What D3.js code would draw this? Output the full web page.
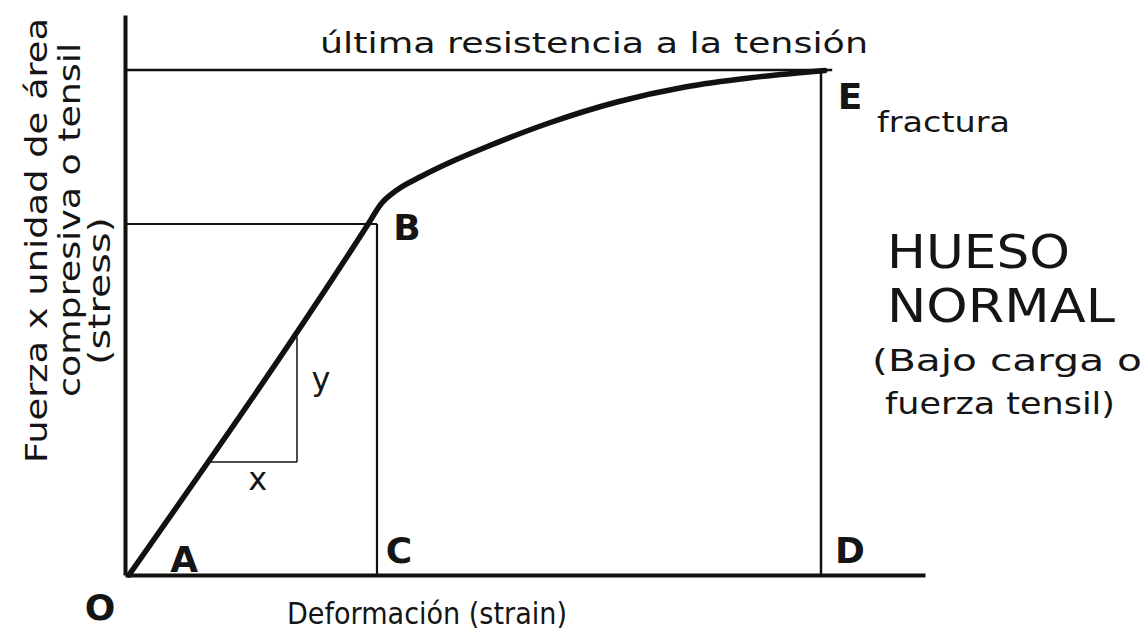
<!DOCTYPE html>
<html>
<head>
<meta charset="utf-8">
<script src="https://cdn.jsdelivr.net/npm/d3@7"></script>
<style>
  body { margin: 0; background: #fff; }
  text { font-family: "DejaVu Sans", sans-serif; fill: #151515; }
</style>
</head>
<body>
<div id="chart"></div>
<script>
// curve (strain %, stress %)
var strain = [0.5, 30.4, 32, 34, 37, 41, 45, 53, 61.5, 70, 78, 84, 87.5];
var stress = [0, 70.2, 74.2, 77, 79.7, 82.8, 85.5, 90.4, 94.6, 97.6, 99.4, 100.4, 100.9];

// key levels
var yieldStress = 70.2;      // B
var yieldStrain = 31.5;      // C
var ultimateStress = 101;    // E
var fractureStrain = 87;     // D
var ultimateLineEnd = 88.4;

// slope triangle (x, y)
var triStrain = [10.4, 21.5];
var triStress = [22.6, 47.6];

var pointNames = ["O", "A", "B", "C", "D", "E"];
var yLabelLines = ["Fuerza x unidad de área", "compresiva o tensil", "(stress)"];
var xLabel = "Deformación (strain)";
var topLabel = "última resistencia a la tensión";
var titleLines = ["HUESO", "NORMAL"];
var noteLines = ["(Bajo carga o", "fuerza tensil)"];

var width = 1143, height = 631;
var svg = d3.select("#chart").append("svg").attr("width", width).attr("height", height);

var x = d3.scaleLinear().domain([0, 100]).range([125, 925]);
var y = d3.scaleLinear().domain([0, 112]).range([575, 15]);

// thin guide lines
function guide(x1, y1, x2, y2, w) {
  svg.append("line")
    .attr("x1", x(x1)).attr("y1", y(y1))
    .attr("x2", x(x2)).attr("y2", y(y2))
    .attr("stroke", "#111").attr("stroke-width", w);
}
guide(0, ultimateStress, ultimateLineEnd, ultimateStress, 2.5);
guide(fractureStrain, ultimateStress, fractureStrain, 0, 2.5);
guide(0, yieldStress, yieldStrain, yieldStress, 2.2);
guide(yieldStrain, yieldStress, yieldStrain, 0, 2.2);
guide(triStrain[0], triStress[0], triStrain[1], triStress[0], 1.5);
guide(triStrain[1], triStress[0], triStrain[1], triStress[1], 1.5);

// axes
svg.append("g")
  .attr("transform", "translate(0," + y(0) + ")")
  .call(d3.axisBottom(x).ticks(0).tickSizeOuter(0))
  .select(".domain").attr("stroke", "#111").attr("stroke-width", 4);
svg.append("g")
  .attr("transform", "translate(" + x(0) + ",0)")
  .call(d3.axisLeft(y).ticks(0).tickSizeOuter(0))
  .select(".domain").attr("stroke", "#111").attr("stroke-width", 4);

// stress-strain curve
var pts = strain.map(function(d, i) { return [d, stress[i]]; });
svg.append("path")
  .datum(pts)
  .attr("fill", "none")
  .attr("stroke", "#111")
  .attr("stroke-width", 5.5)
  .attr("stroke-linecap", "round")
  .attr("d", d3.line()
    .x(function(d) { return x(d[0]); })
    .y(function(d) { return y(d[1]); })
    .curve(d3.curveMonotoneX));

// point letters
var letterPos = {
  O: [x(0) - 25, y(0) + 45],
  A: [x(7.4), y(0) - 3],
  B: [x(yieldStrain) + 30, y(yieldStress) + 16],
  C: [x(yieldStrain) + 22, y(0) - 12],
  D: [x(fractureStrain) + 29, y(0) - 12],
  E: [x(fractureStrain) + 29, y(ultimateStress) + 39]
};
svg.selectAll(".pt").data(pointNames).enter().append("text")
  .attr("class", "pt")
  .attr("x", function(d) { return letterPos[d][0]; })
  .attr("y", function(d) { return letterPos[d][1]; })
  .attr("text-anchor", "middle")
  .style("font-weight", "bold")
  .style("font-size", "36px")
  .text(function(d) { return d; });

// x / y of triangle
svg.append("text").attr("x", x(16.6)).attr("y", y(triStress[0]) + 28)
  .attr("text-anchor", "middle").style("font-size", "32px").text("x");
svg.append("text").attr("x", x(triStrain[1]) + 24).attr("y", y(37))
  .attr("text-anchor", "middle").style("font-size", "32px").text("y");

// helper for stretched text
function label(txt, x0, y0, size, len, weight) {
  return svg.append("text")
    .attr("x", x0).attr("y", y0)
    .attr("textLength", len).attr("lengthAdjust", "spacingAndGlyphs")
    .style("font-size", size + "px")
    .style("font-weight", weight || "normal")
    .text(txt);
}

label(topLabel, 320, 53, 29, 548);
label("fractura", 877, 132, 28, 133);
label(noteLines[0], 872, 371, 31, 270);
label(noteLines[1], 885, 414, 31, 230);
label(xLabel, 287, 624, 31, 280);

// title, two lines
label(titleLines[0], 887, 268, 46, 183);
label(titleLines[1], 887, 322, 46, 228);

// rotated y label, each line placed on its own
var yLines = [
  { base: 47, start: 463, len: 445 },
  { base: 80, start: 397, len: 354 },
  { base: 110, start: 365, len: 148 }
];
yLabelLines.forEach(function(t, i) {
  svg.append("text")
    .attr("transform", "translate(" + yLines[i].base + "," + yLines[i].start + ") rotate(-90)")
    .attr("textLength", yLines[i].len).attr("lengthAdjust", "spacingAndGlyphs")
    .style("font-size", "31px")
    .text(t);
});
</script>
</body>
</html>
